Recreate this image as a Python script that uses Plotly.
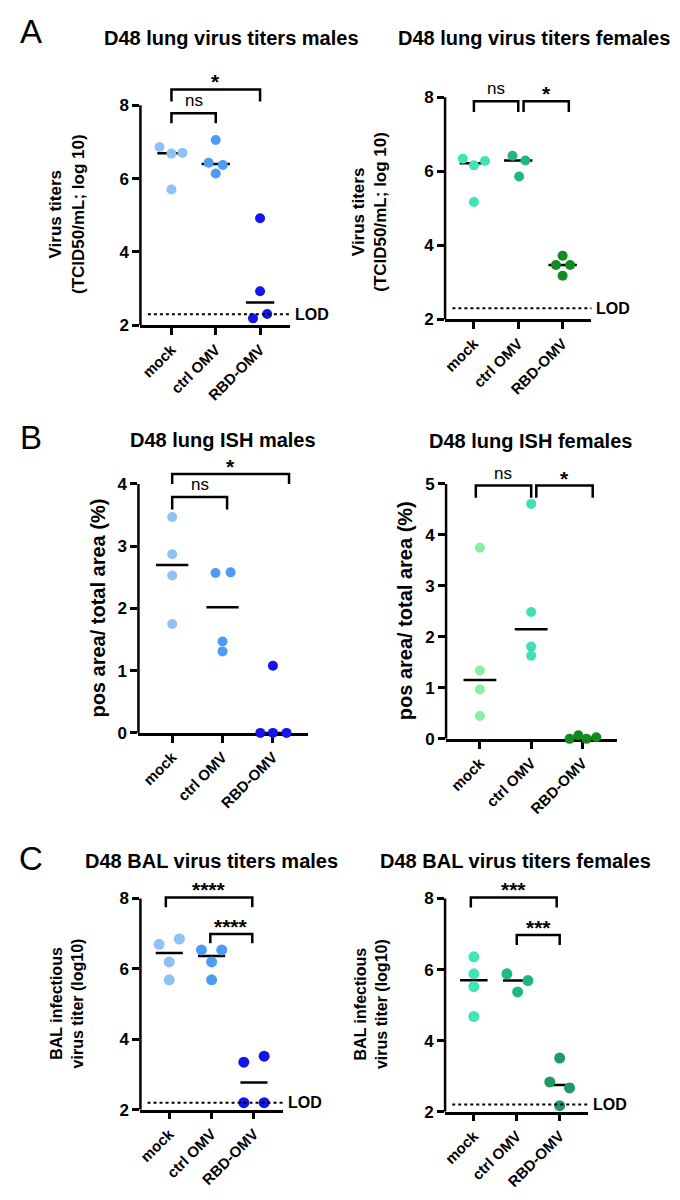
import plotly.graph_objects as go
from statistics import median

W, H = 680, 1200
FONT = "Liberation Sans, Arial, Helvetica, sans-serif"

groups = ["mock", "ctrl OMV", "RBD-OMV"]

# A: D48 lung virus titers (TCID50/mL; log 10)
lung_m_mock = [6.86, 6.68, 6.70, 5.70]
lung_m_ctrl = [7.05, 6.43, 6.37, 6.14]
lung_m_rbd = [4.92, 2.93, 2.19, 2.31]
lung_f_mock = [6.34, 6.16, 6.28, 5.17]
lung_f_ctrl = [6.42, 6.29, 5.86]
lung_f_rbd = [3.72, 3.47, 3.47, 3.18]
lod_lung = 2.3

# B: D48 lung ISH, pos area / total area (%)
ish_m_mock = [3.47, 2.87, 2.53, 1.75]
ish_m_ctrl = [2.57, 2.58, 1.47, 1.31]
ish_m_rbd = [1.08, 0, 0, 0]
ish_f_mock = [3.75, 1.34, 0.97, 0.45]
ish_f_ctrl = [4.61, 2.49, 1.81, 1.63]
ish_f_rbd = [0, 0.07, 0, 0.03]

# C: D48 BAL infectious virus titer (log10)
bal_m_mock = [6.70, 6.85, 6.20, 5.69]
bal_m_ctrl = [6.54, 6.54, 6.20, 5.69]
bal_m_rbd = [3.35, 3.52, 2.20, 2.20]
bal_f_mock = [6.36, 5.88, 5.52, 4.68]
bal_f_ctrl = [5.88, 5.69, 5.37]
bal_f_rbd = [3.51, 2.84, 2.67, 2.17]
lod_bal = 2.2

# significance brackets: label, from group, to group
lung_m_sig = [("*", 0, 2.0), ("ns", 0, 1.0)]
lung_f_sig = [("ns", 0, 1.0), ("*", 1.12, 2.14)]
ish_m_sig = [("*", 0, 2.32), ("ns", 0, 1.09)]
ish_f_sig = [("ns", -0.08, 1.0), ("*", 1.1, 2.2)]
bal_m_sig = [("****", -0.08, 1.96), ("****", 0.97, 1.96)]
bal_f_sig = [("***", -0.07, 1.93), ("***", 1.0, 2.0)]

# ---- styling / placement ----
blues = ["#8fc1f2", "#4c9cf3", "#1414ef"]
greens_a = ["#40e3b5", "#22b77b", "#108c22"]
greens_b = ["#86eea6", "#40e0b5", "#128a22"]
greens_c = ["#44e5b5", "#1fb97c", "#1f9a62"]

# bracket heights (top, leg end) per panel
lung_m_h = [(8.43, 8.1), (7.78, 7.51)]
lung_f_h = [(7.89, 7.6), (7.89, 7.6)]
ish_m_h = [(4.16, 4.0), (3.79, 3.59)]
ish_f_h = [(4.97, 4.73), (4.97, 4.73)]
bal_m_h = [(8.03, 7.75), (6.99, 6.73)]
bal_f_h = [(8.03, 7.75), (6.97, 6.69)]

# horizontal spread of dots in each column (category units)
lung_m_dx = [[-0.27, 0, 0.25, 0], [0, -0.16, 0.16, 0], [0, 0, -0.16, 0.16]]
lung_f_dx = [[-0.25, 0, 0.25, 0], [-0.13, 0.16, 0.02], [0, -0.15, 0.17, 0]]
ish_m_dx = [[0, 0, 0, 0], [-0.14, 0.16, 0, 0], [0, -0.25, 0, 0.27]]
ish_f_dx = [[0, 0, 0, 0], [0, 0, 0, 0], [-0.25, -0.08, 0.08, 0.27]]
bal_m_dx = [[-0.24, 0.24, 0, 0], [-0.24, 0.24, 0, 0], [-0.24, 0.24, -0.24, 0.24]]
bal_f_dx = [[0, 0, 0, 0], [-0.23, 0.26, 0.02], [0, -0.23, 0.23, 0]]

panels = [
    dict(title="D48 lung virus titers males", tpos=(221, 30),
         ytitle="Virus titers<br>(TCID50/mL; log 10)", ypos=(56, 208), yfs=17,
         data=[lung_m_mock, lung_m_ctrl, lung_m_rbd], dx=lung_m_dx, colors=blues,
         sig=lung_m_sig, sig_h=lung_m_h, lod=lod_lung, msize=10,
         box=(130, 280, 320, 98), xr=(-0.70, 2.67), yr=(2, 8, 9.3), ticks=[2, 4, 6, 8]),
    dict(title="D48 lung virus titers females", tpos=(525, 30),
         ytitle="Virus titers<br>(TCID50/mL; log 10)", ypos=(360, 205), yfs=17,
         data=[lung_f_mock, lung_f_ctrl, lung_f_rbd], dx=lung_f_dx, colors=greens_a,
         sig=lung_f_sig, sig_h=lung_f_h, lod=lod_lung, msize=10,
         box=(436, 583, 314, 90), xr=(-0.65, 2.65), yr=(2, 8, 9.3), ticks=[2, 4, 6, 8]),
    dict(title="D48 lung ISH males", tpos=(213, 436),
         ytitle="pos area/ total area (%)", ypos=(87, 605), yfs=20,
         data=[ish_m_mock, ish_m_ctrl, ish_m_rbd], dx=ish_m_dx, colors=blues,
         sig=ish_m_sig, sig_h=ish_m_h, lod=None, msize=10,
         box=(128, 298, 731, 480), xr=(-0.67, 2.69), yr=(0, 4, 4.55), ticks=[0, 1, 2, 3, 4]),
    dict(title="D48 lung ISH females", tpos=(522, 437),
         ytitle="pos area/ total area (%)", ypos=(396, 608), yfs=20,
         data=[ish_f_mock, ish_f_ctrl, ish_f_rbd], dx=ish_f_dx, colors=greens_b,
         sig=ish_f_sig, sig_h=ish_f_h, lod=None, msize=10,
         box=(437, 609, 737, 480), xr=(-0.66, 2.68), yr=(0, 5, 5.6), ticks=[0, 1, 2, 3, 4, 5]),
    dict(title="D48 BAL virus titers males", tpos=(201, 860),
         ytitle="BAL infectious<br>virus titer (log10)", ypos=(56, 1004), yfs=16,
         data=[bal_m_mock, bal_m_ctrl, bal_m_rbd], dx=bal_m_dx, colors=blues,
         sig=bal_m_sig, sig_h=bal_m_h, lod=lod_bal, msize=11,
         box=(130, 273, 1111, 898), xr=(-0.68, 2.68), yr=(2, 8, 8.9), ticks=[2, 4, 6, 8]),
    dict(title="D48 BAL virus titers females", tpos=(507, 860),
         ytitle="BAL infectious<br>virus titer (log10)", ypos=(361, 1004), yfs=16,
         data=[bal_f_mock, bal_f_ctrl, bal_f_rbd], dx=bal_f_dx, colors=greens_c,
         sig=bal_f_sig, sig_h=bal_f_h, lod=lod_bal, msize=11,
         box=(436, 580, 1113, 898), xr=(-0.67, 2.67), yr=(2, 8, 8.9), ticks=[2, 4, 6, 8]),
]

letters = [("A", 20, 24), ("B", 20, 433), ("C", 20, 858)]

fig = go.Figure()
shapes, annotations = [], []
layout = {}
LW = 2.5

for k, p in enumerate(panels, start=1):
    sfx = "" if k == 1 else str(k)
    xa, ya = "x" + sfx, "y" + sfx
    xl, xr, yb, yt = p["box"]
    lo, top, hi = p["yr"]
    ppu = (yb - yt) / (top - lo)
    ytop_px = yb - (hi - lo) * ppu

    layout["xaxis" + sfx] = dict(
        domain=[xl / W, xr / W], range=list(p["xr"]), anchor=ya,
        tickmode="array", tickvals=[0, 1, 2], ticktext=groups, tickangle=-45,
        ticks="outside", ticklen=7, tickwidth=LW, tickcolor="black",
        showline=True, linewidth=LW, linecolor="black", showgrid=False, zeroline=False,
        tickfont=dict(family=FONT, size=15, color="black", weight="bold"),
        layer="below traces", fixedrange=True)
    layout["yaxis" + sfx] = dict(
        domain=[1 - yb / H, 1 - ytop_px / H], range=[lo, hi], anchor=xa,
        tickmode="array", tickvals=p["ticks"],
        ticks="outside", ticklen=7, tickwidth=LW, tickcolor="black",
        showline=False, showgrid=False, zeroline=False,
        tickfont=dict(family=FONT, size=17, color="black", weight="bold"),
        layer="below traces", fixedrange=True)

    # y axis line only up to the last tick
    shapes.append(dict(type="line", xref=xa + " domain", yref=ya, x0=0, x1=0, y0=lo, y1=top,
                       line=dict(color="black", width=LW)))

    for i, (vals, dxs) in enumerate(zip(p["data"], p["dx"])):
        m = median(vals)
        fig.add_trace(go.Scatter(x=[i - 0.32, i + 0.32], y=[m, m], mode="lines",
                                 line=dict(color="black", width=LW), xaxis=xa, yaxis=ya,
                                 hoverinfo="skip"))
        fig.add_trace(go.Scatter(x=[i + d for d in dxs], y=vals, mode="markers",
                                 marker=dict(color=p["colors"][i], size=p["msize"]),
                                 cliponaxis=False, xaxis=xa, yaxis=ya, name=groups[i]))

    if p["lod"] is not None:
        shapes.append(dict(type="line", xref=xa + " domain", yref=ya, x0=0.05, x1=1,
                           y0=p["lod"], y1=p["lod"], line=dict(color="black", width=2, dash="dot")))
        annotations.append(dict(text="LOD", xref=xa + " domain", yref=ya, x=1, y=p["lod"],
                                xanchor="left", yanchor="middle", xshift=3, showarrow=False,
                                font=dict(family=FONT, size=16, color="black", weight="bold")))

    for (lab, a, b), (ht, hl) in zip(p["sig"], p["sig_h"]):
        shapes.append(dict(type="path", xref=xa, yref=ya,
                           path=f"M {a},{hl} L {a},{ht} L {b},{ht} L {b},{hl}",
                           line=dict(color="black", width=LW)))
        star = "*" in lab
        annotations.append(dict(text=lab, xref=xa, yref=ya, x=(a + b) / 2, y=ht,
                                xanchor="center", yanchor="bottom", showarrow=False,
                                yshift=-6 if star else 1,
                                font=dict(family=FONT, size=21 if star else 17, color="black",
                                          weight="bold" if star else "normal")))

    annotations.append(dict(text=p["title"], xref="paper", yref="paper",
                            x=p["tpos"][0] / W, y=1 - p["tpos"][1] / H,
                            xanchor="center", yanchor="middle", showarrow=False,
                            font=dict(family=FONT, size=20, color="black", weight="bold")))
    annotations.append(dict(text=p["ytitle"], xref="paper", yref="paper",
                            x=p["ypos"][0] / W, y=1 - p["ypos"][1] / H, textangle=-90,
                            xanchor="center", yanchor="middle", showarrow=False,
                            font=dict(family=FONT, size=p["yfs"], color="black", weight="bold")))

for lab, cx, cy in letters:
    annotations.append(dict(text=lab, xref="paper", yref="paper", x=cx / W, y=1 - cy / H,
                            xanchor="center", yanchor="middle", showarrow=False,
                            font=dict(family=FONT, size=33, color="black")))

fig.update_layout(width=W, height=H, margin=dict(l=0, r=0, t=0, b=0),
                  paper_bgcolor="white", plot_bgcolor="white", showlegend=False,
                  shapes=shapes, annotations=annotations, **layout)

fig.write_html("out.html")
